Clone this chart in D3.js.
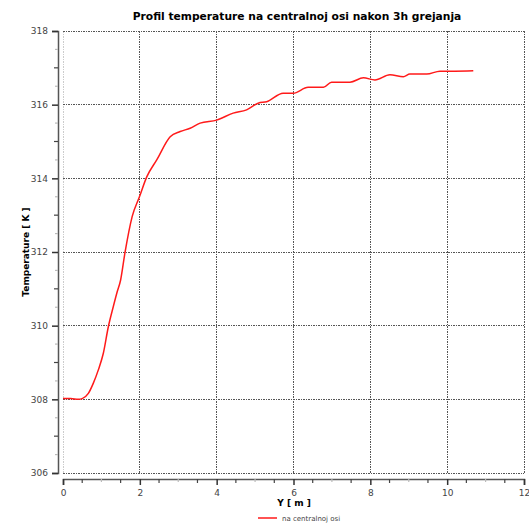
<!DOCTYPE html>
<html>
<head>
<meta charset="utf-8">
<script src="https://cdn.jsdelivr.net/npm/d3@7"></script>
<style>
  body { margin: 0; background: #fff; }
  svg { display: block; }
  .tick text { font-family: "DejaVu Sans", sans-serif; font-size: 9px; fill: #444; }
</style>
</head>
<body>
<div id="chart"></div>
<script>
// Temperature profile along the central axis
const posY = [0, 0.2, 0.4, 0.5, 0.66, 0.79, 0.92, 1.05, 1.18, 1.31, 1.40, 1.50, 1.61, 1.80, 1.99, 2.18, 2.44,
  2.79, 3.05, 3.31, 3.57, 4.0, 4.43, 4.78, 5.08, 5.30, 5.73, 5.99, 6.38, 6.78, 6.99, 7.21, 7.47, 7.82,
  8.12, 8.51, 8.86, 9.03, 9.47, 9.81, 10.2, 10.68];
const temp = [308.02, 308.02, 308.0, 308.02, 308.16, 308.44, 308.80, 309.25, 309.97, 310.52, 310.88, 311.24, 311.96, 312.96, 313.50, 314.04, 314.5,
  315.13, 315.27, 315.36, 315.50, 315.58, 315.77, 315.86, 316.04, 316.08, 316.31, 316.31, 316.47, 316.47, 316.61, 316.61, 316.61, 316.73,
  316.67, 316.81, 316.76, 316.83, 316.83, 316.91, 316.91, 316.92];
const xDomain = [0, 12];
const yDomain = [306, 318];
const xTicks = [0, 2, 4, 6, 8, 10, 12];
const yTicks = [306, 308, 310, 312, 314, 316, 318];

const width = 529, height = 523;
const plot = { left: 63, right: 524, top: 31, bottom: 473 };

const svg = d3.select("#chart").append("svg")
  .attr("width", width)
  .attr("height", height);

const x = d3.scaleLinear().domain(xDomain).range([plot.left, plot.right]);
const y = d3.scaleLinear().domain(yDomain).range([plot.bottom, plot.top]);

const minorX = d3.range(0.5, 12, 0.5).filter(v => v % 2 !== 0);
const minorY = d3.range(306.5, 318, 0.5).filter(v => v % 2 !== 0);

// grid
const grid = svg.append("g");
grid.selectAll(".gx").data(xTicks).join("line")
  .attr("x1", d => x(d)).attr("x2", d => x(d))
  .attr("y1", plot.top).attr("y2", plot.bottom)
  .attr("stroke", d => d === 0 ? "#ccc" : "#555")
  .attr("stroke-dasharray", "2,1,1,1")
  .attr("shape-rendering", "crispEdges");
grid.selectAll(".gy").data(yTicks).join("line")
  .attr("y1", d => y(d)).attr("y2", d => y(d))
  .attr("x1", plot.left).attr("x2", plot.right)
  .attr("stroke", "#555")
  .attr("stroke-dasharray", "2,1,1,1")
  .attr("shape-rendering", "crispEdges");

// axes, offset from the plot area
const axisY = 479, axisX = 58;
const xAxis = svg.append("g").attr("transform", `translate(0,${axisY})`)
  .call(d3.axisBottom(x).tickValues(xTicks).tickSize(6).tickPadding(5).tickFormat(d3.format("d")));
const yAxis = svg.append("g").attr("transform", `translate(${axisX},0)`)
  .call(d3.axisLeft(y).tickValues(yTicks).tickSize(6).tickPadding(4).tickFormat(d3.format("d")));
[xAxis, yAxis].forEach(g => {
  g.select(".domain").attr("stroke", "#555").attr("stroke-width", 1.5);
  g.selectAll(".tick line").attr("stroke", "#333").attr("stroke-width", 1.5);
});

svg.append("g").selectAll("line").data(minorX).join("line")
  .attr("x1", d => x(d)).attr("x2", d => x(d))
  .attr("y1", axisY).attr("y2", d => axisY + (d % 1 === 0 ? 3 : 4))
  .attr("stroke", d => d % 1 === 0 ? "#bbb" : "#444").attr("stroke-width", 1.2);
svg.append("g").selectAll("line").data(minorY).join("line")
  .attr("y1", d => y(d)).attr("y2", d => y(d))
  .attr("x1", axisX).attr("x2", d => axisX - (d % 1 === 0 ? 4 : 3))
  .attr("stroke", d => d % 1 === 0 ? "#444" : "#bbb").attr("stroke-width", 1.2);

// curve
const line = d3.line().x((d, i) => x(posY[i])).y(d => y(d)).curve(d3.curveMonotoneX);
svg.append("path")
  .datum(temp)
  .attr("d", line)
  .attr("fill", "none")
  .attr("stroke", "#ff1a1a")
  .attr("stroke-width", 1.5);

// title & labels
svg.append("text")
  .attr("x", 297).attr("y", 20)
  .attr("text-anchor", "middle")
  .style("font-family", "DejaVu Sans, sans-serif")
  .style("font-size", "10.7px").style("font-weight", "bold")
  .text("Profil temperature na centralnoj osi nakon 3h grejanja");

svg.append("text")
  .attr("x", 294).attr("y", 506)
  .attr("text-anchor", "middle")
  .style("font-family", "DejaVu Sans, sans-serif")
  .style("font-size", "9px").style("font-weight", "bold")
  .text("Y [ m ]");

svg.append("text")
  .attr("transform", `translate(29,${(plot.top + plot.bottom) / 2}) rotate(-90)`)
  .attr("text-anchor", "middle")
  .style("font-family", "DejaVu Sans, sans-serif")
  .style("font-size", "9px").style("font-weight", "bold")
  .text("Temperature [ K ]");

// legend
const legend = svg.append("g").attr("transform", "translate(258,518)");
legend.append("line").attr("x1", 0).attr("x2", 19).attr("y1", 0).attr("y2", 0)
  .attr("stroke", "#ff1a1a").attr("stroke-width", 1.5);
legend.append("text").attr("x", 24).attr("y", 3)
  .style("font-family", "DejaVu Sans, sans-serif")
  .style("font-size", "7px").style("fill", "#444")
  .text("na centralnoj osi");
</script>
</body>
</html>
